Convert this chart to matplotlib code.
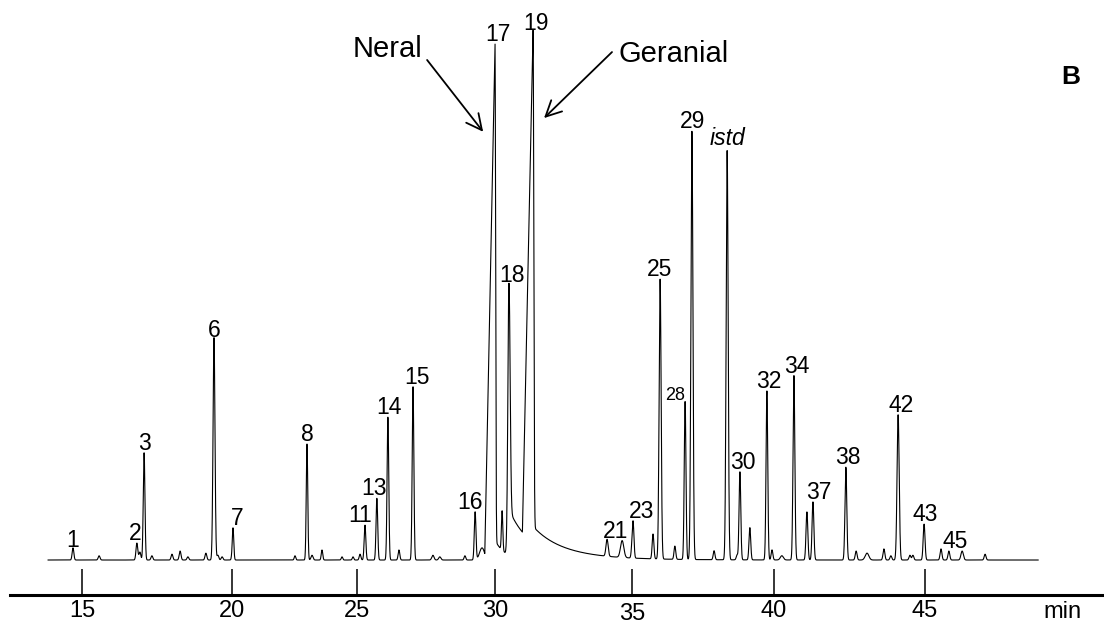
import numpy as np
import matplotlib
matplotlib.use("Agg")
import matplotlib.pyplot as plt

plt.rcParams['font.family'] = 'Liberation Sans'

#%%
# Peak table
# retention time (min), height (% of peak 19), sigma (min), label
peak_time = [14.70, 15.57, 16.83, 16.93, 17.07, 17.33, 18.00, 18.27, 18.53, 19.13,
             19.40, 19.53, 19.67, 20.04, 22.52, 23.00, 23.20, 23.60, 24.40, 24.84,
             25.11, 25.29, 25.72, 26.12, 26.52, 27.03, 27.75, 28.00, 28.91, 29.28,
             29.53, 30.26, 30.51, 34.09, 34.64, 35.00, 35.04, 35.74, 35.99, 36.51,
             36.87, 37.11, 37.89, 38.35, 38.70, 38.80, 39.15, 39.75, 39.93, 40.26,
             40.66, 41.09, 41.29, 42.38, 42.72, 43.08, 43.64, 43.87, 44.11, 44.50,
             44.60, 44.97, 45.53, 45.79, 46.23, 46.99]
peak_height = [2.3, 0.8, 3.2, 1.5, 20.3, 0.8, 1.1, 1.7, 0.6, 1.3,
               42.2, 0.9, 0.6, 6.1, 0.8, 22.0, 0.9, 1.9, 0.6, 0.6,
               1.1, 6.6, 11.7, 27.1, 1.9, 32.8, 0.9, 0.6, 0.8, 9.1,
               2.3, 7.5, 51.5, 3.2, 3.2, 1.7, 6.3, 4.7, 53.0, 2.5,
               29.9, 81.1, 1.7, 77.5, 0.9, 16.7, 6.1, 32.0, 1.9, 0.8,
               35.0, 9.1, 11.0, 17.6, 1.7, 1.3, 2.1, 0.8, 27.5, 0.9,
               0.9, 6.8, 2.1, 1.7, 1.7, 1.1]
peak_sigma = [0.028, 0.03, 0.03, 0.03, 0.028, 0.03, 0.03, 0.03, 0.03, 0.03,
              0.032, 0.03, 0.03, 0.03, 0.03, 0.03, 0.04, 0.03, 0.03, 0.03,
              0.03, 0.03, 0.03, 0.03, 0.03, 0.03, 0.04, 0.04, 0.03, 0.03,
              0.09, 0.025, 0.04, 0.04, 0.06, 0.03, 0.03, 0.03, 0.035, 0.03,
              0.03, 0.035, 0.03, 0.035, 0.03, 0.03, 0.03, 0.03, 0.03, 0.05,
              0.03, 0.03, 0.03, 0.03, 0.03, 0.06, 0.03, 0.03, 0.035, 0.03,
              0.03, 0.03, 0.03, 0.03, 0.04, 0.03]
peak_label = ['1', '', '2', '', '3', '', '', '', '', '',
              '6', '', '', '7', '', '8', '', '', '', '',
              '', '11', '13', '14', '', '15', '', '', '', '16',
              '', '', '18', '', '21', '', '23', '', '25', '',
              '28', '29', '', 'istd', '', '30', '', '32', '', '',
              '34', '', '37', '38', '', '', '', '', '42', '',
              '', '43', '', '', '45', '']

# overloaded citral peaks (fronting "shark fin" shape)
fin_time = [30.00, 31.39]
fin_height = [98.1, 97.0]
fin_front = [0.37, 0.39]
fin_back = [0.022, 0.025]
fin_label = ['17', '19']

# tailing after the big peaks
tail_time = [30.00, 30.51, 31.39]
tail_height = [3.8, 8.7, 3.0]
tail_tau = [0.36, 0.9, 1.6]

axis_ticks = [15, 20, 25, 30, 35, 40, 45]

#%%
# the printed time axis is not evenly spaced -> calibrate tick positions (pixels)
tick_px = [82, 232, 357, 495, 632, 774, 925]
cal_t = [0] + axis_ticks + [60]
cal_px = [82 - 15 * 30] + tick_px + [925 + 15 * 30.2]

def fwd(x):
    return np.interp(x, cal_t, cal_px)

def inv(p):
    return np.interp(p, cal_px, cal_t)

#%%
t = np.arange(13.87, 48.75, 0.004)
signal = np.zeros_like(t)
for tt, hh, ss in zip(peak_time, peak_height, peak_sigma):
    signal += hh * np.exp(-0.5 * ((t - tt) / ss) ** 2)
for tt, hh, fr, bk in zip(fin_time, fin_height, fin_front, fin_back):
    dt = t - tt
    left = hh * np.clip(1 + dt / fr, 0, 1)
    right = hh * np.exp(-0.5 * (dt / bk) ** 2)
    signal += np.where(dt < 0, left, right)
for tt, hh, tau in zip(tail_time, tail_height, tail_tau):
    dt = np.clip(t - tt, 0, None)
    # tail fades in so it does not lift the apex
    signal += hh * np.exp(-dt / tau) * (1 - np.exp(-0.5 * (dt / 0.03) ** 2))

#%%
fig = plt.figure(figsize=(11.04, 6.23), dpi=100)
ax = fig.add_axes([10 / 1104, 0, 1094 / 1104, 1])
ax.set_xscale('function', functions=(fwd, inv))
ax.plot(t, signal, color='black', lw=0.8)

ax.set_xlim(inv(10), inv(1104))
ax.set_ylim(-11.93, 106.06)

for s in ['left', 'right', 'top']:
    ax.spines[s].set_visible(False)
ax.spines['bottom'].set_position(('data', -6.63))
ax.spines['bottom'].set_linewidth(2.2)
ax.set_yticks([])
ax.set_xticks(axis_ticks)
ax.set_xticklabels([str(v) for v in axis_ticks])
ax.tick_params(axis='x', direction='in', length=18.7, width=1.1, pad=3.5, labelsize=17)
ax.xaxis.get_majorticklabels()[4].set_y(-0.5)
ax.set_xlabel('min', fontsize=17)
ax.xaxis.set_label_coords(0.9625, 0.036)

# peak numbers (nudges in pixels)
label_dx = {'2': -2, '7': 4, '11': -5, '13': -3, '14': 1, '15': 4, '16': -5,
            '17': 3, '18': 3, '19': 3, '21': -7, '23': 8, '25': -1, '28': -10,
            '29': 1, '30': 3, '32': 2, '34': 3, '37': 6, '38': 2, '42': 3,
            '43': 1, '45': -7}
label_dy = {'1': 1, '6': 1, '18': 1, '19': 0, 'istd': 6, '28': 2}

labels = list(zip(peak_time, peak_label)) + list(zip(fin_time, fin_label))
for tt, lab in labels:
    if not lab:
        continue
    # anchor on the drawn apex of the trace
    near = np.abs(t - tt) < 0.02
    top = signal[near].max()
    dx = label_dx.get(lab, 0) * 0.72
    dy = label_dy.get(lab, 3) * 0.72
    size = 13 if lab == '28' else 16.5
    style = 'italic' if lab == 'istd' else 'normal'
    ax.annotate(lab, xy=(tt, top), xytext=(dx, dy), textcoords='offset points',
                ha='center', va='baseline', fontsize=size, fontstyle=style)

# citral isomers
ax.text(26.12, 95.3, 'Neral', fontsize=21, ha='center', va='baseline')
ax.annotate('', xy=(29.57, 81.1), xytext=(27.54, 94.7),
            arrowprops=dict(arrowstyle='->', lw=1.3, mutation_scale=28, shrinkA=0, shrinkB=0))
ax.text(34.49, 94.3, 'Geranial', fontsize=21, ha='left', va='baseline')
ax.annotate('', xy=(31.79, 83.7), xytext=(34.27, 96.2),
            arrowprops=dict(arrowstyle='->', lw=1.3, mutation_scale=28, shrinkA=0, shrinkB=0))

fig.text(1071 / 1104, 1 - 84 / 623, 'B', fontsize=19, fontweight='bold', ha='center', va='baseline')

fig.savefig('out.png', dpi=100)
